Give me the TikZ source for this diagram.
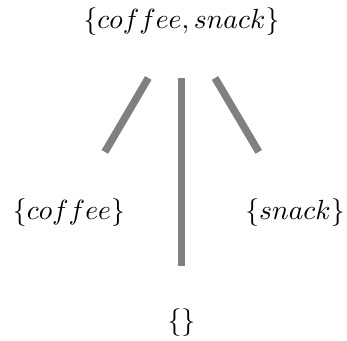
\documentclass[tikz,border=0pt]{standalone}
\usetikzlibrary{calc}
\begin{document}
\begin{tikzpicture}[x=0.361pt,y=-0.361pt,
  setnode/.style={inner sep=0pt,font=\fontsize{10.25}{12}\selectfont},
  edge/.style={draw=gray,line width=2.7pt}]
\useasboundingbox (0,0) rectangle (347,341);
\node[setnode] (top) at (181.5,21.5) {$\{coffee, snack\}$};
\node[setnode] (left) at (69,213) {$\{coffee\}$};
\node[setnode] (right) at (295,213) {$\{snack\}$};
\node[setnode] (bot) at (181.5,322.5) {$\{\}$};
\draw[edge] ($(top)!0.295!(left)$) -- ($(top)!0.681!(left)$);
\draw[edge] ($(top)!0.295!(right)$) -- ($(top)!0.681!(right)$);
\draw[edge] ($(top)!0.187!(bot)$) -- ($(top)!0.811!(bot)$);
\end{tikzpicture}
\end{document}
